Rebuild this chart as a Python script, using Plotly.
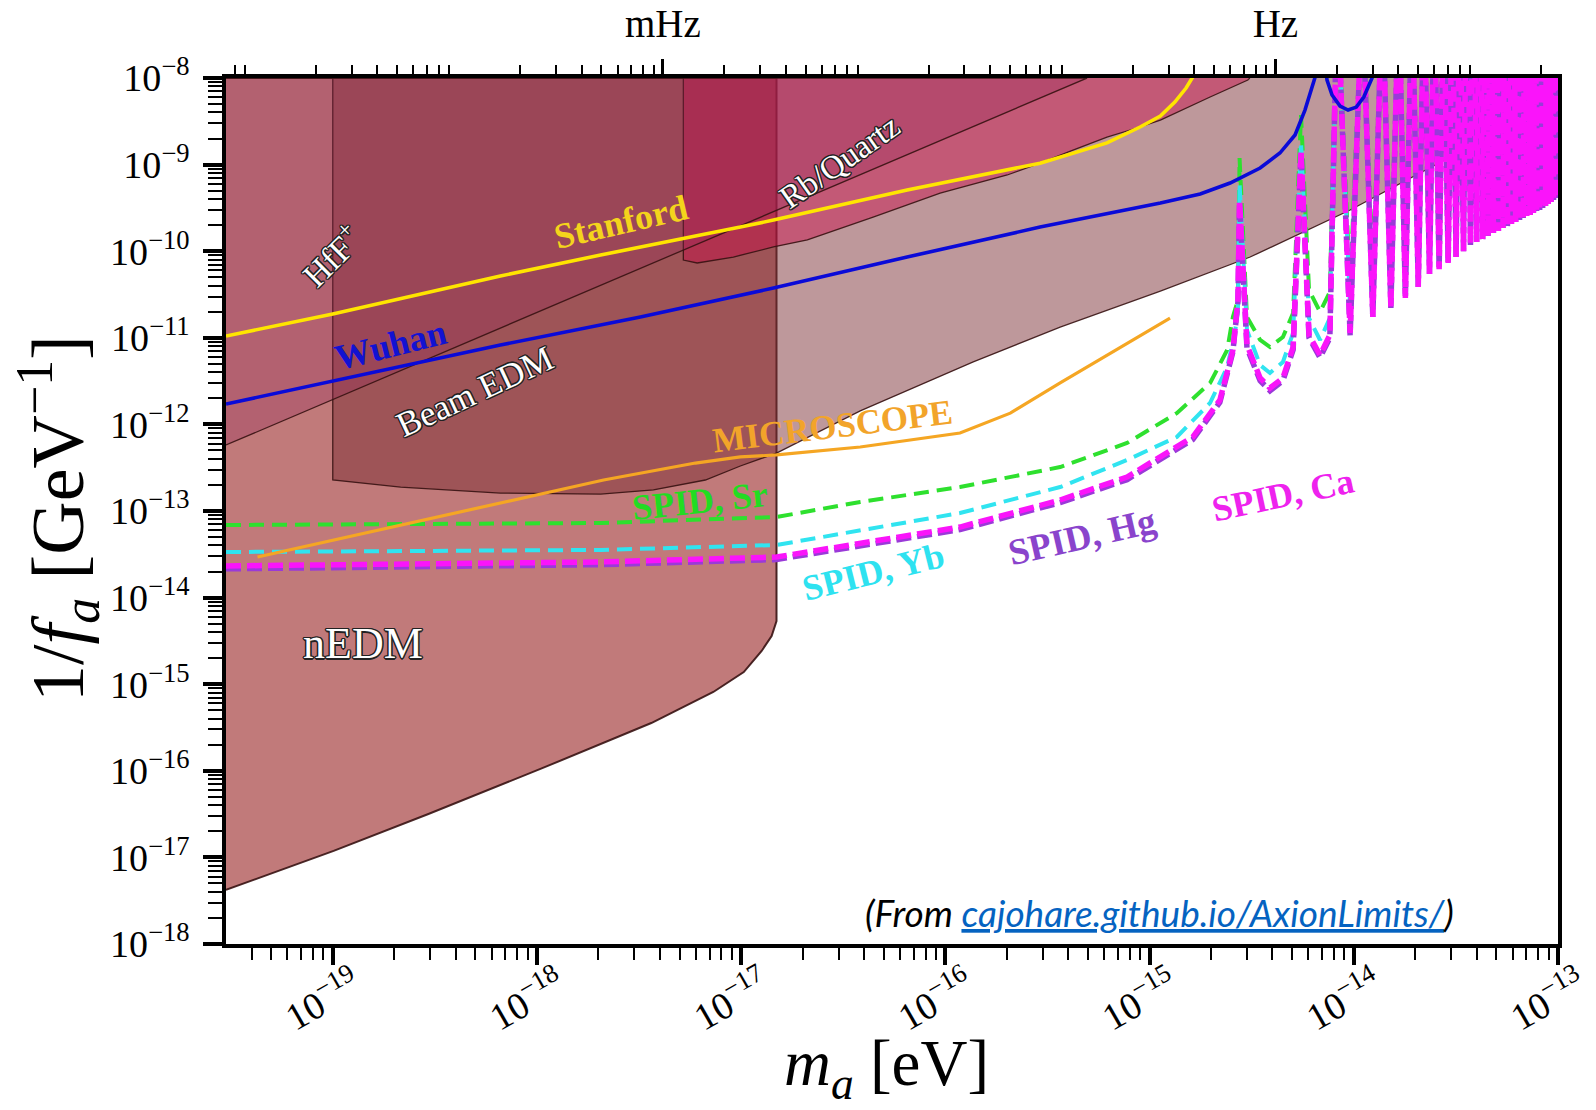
import numpy as np
import plotly.graph_objects as go

# ---------------- data (m_a in eV, 1/f_a in GeV^-1) ----------------
TOP = 1e-7       # resonance spikes leave the plot
TOP_DENSE = 1e-6  # spikes in the dense comb

nedm_m = [3.0e-20, 1.01e-19, 2.94e-19, 1.04e-18, 3.63e-18, 7.31e-18, 1.03e-17, 1.26e-17, 1.41e-17, 1.49e-17, 1.49e-17, 3.0e-20]
nedm_g = [4.21e-18, 1.19e-17, 3.17e-17, 1.05e-16, 3.56e-16, 8.13e-16, 1.38e-15, 2.42e-15, 3.60e-15, 5.37e-15, 1e-8, 1e-8]

hff_m = [1.0e-19, 1.0e-19, 2.15e-19, 6.62e-19, 2.05e-18, 3.72e-18, 6.68e-18, 9.91e-18, 1.49e-17, 3.83e-17,
         1.37e-16, 3.65e-16, 1.13e-15, 3.11e-15, 9.60e-15, 3.42e-14, 1e-13, 1e-13]
hff_g = [1e-8, 2.28e-13, 1.89e-13, 1.61e-13, 1.57e-13, 1.75e-13, 2.28e-13, 3.31e-13, 4.67e-13, 1.43e-12,
         5.26e-12, 1.33e-11, 3.47e-11, 8.57e-11, 2.99e-10, 1.47e-9, 5.57e-9, 1e-8]

rbq_m = [5.21e-18, 5.21e-18, 6.09e-18, 9.16e-18, 1.44e-17, 2.11e-17, 4.43e-17, 9.43e-17, 2.01e-16, 2.91e-16,
         4.22e-16, 6.19e-16, 8.99e-16, 1.13e-15, 1.98e-15, 3.03e-15, 3.1e-15]
rbq_g = [1e-8, 7.91e-11, 7.31e-11, 8.57e-11, 1.12e-10, 1.35e-10, 2.48e-10, 4.70e-10, 7.59e-10, 1.04e-9,
         1.47e-9, 2.08e-9, 2.72e-9, 3.27e-9, 6.04e-9, 9.48e-9, 1e-8]

beam_m = [3.0e-20, 4.94e-16, 3.0e-20]
beam_g = [5.78e-13, 1e-8, 1e-8]

stanford_m = [3.0e-20, 1.0e-19, 6.62e-19, 2.05e-18, 9.91e-18, 1.44e-17, 6.50e-17, 2.91e-16, 6.19e-16, 8.99e-16,
              1.13e-15, 1.33e-15, 1.51e-15, 1.62e-15, 1.73e-15]
stanford_g = [1.05e-11, 1.88e-11, 5.17e-11, 9.04e-11, 1.90e-10, 2.29e-10, 5.09e-10, 1.04e-9, 1.78e-9, 2.72e-9,
              3.64e-9, 5.28e-9, 7.67e-9, 1e-8, 1.3e-8]

wuhan_m = [3.0e-20, 6.62e-19, 3.21e-18, 9.91e-18, 1.44e-17, 6.50e-17, 2.91e-16, 1.13e-15, 1.77e-15, 2.48e-15,
           3.48e-15, 4.35e-15, 5.16e-15, 5.77e-15, 6.18e-15, 6.45e-15, 6.65e-15, 7.20e-15, 7.40e-15, 7.83e-15,
           8.57e-15, 9.38e-15, 1.03e-14, 1.12e-14, 1.23e-14, 1.27e-14]
wuhan_g = [1.72e-12, 8.26e-12, 1.74e-11, 3.12e-11, 3.76e-11, 8.57e-11, 1.90e-10, 3.61e-10, 4.58e-10, 6.13e-10,
           9.14e-10, 1.36e-9, 2.20e-9, 4.27e-9, 7.26e-9, 1e-8, 1.41e-8, 1.61e-8, 9.48e-9, 6.37e-9,
           4.75e-9, 4.27e-9, 4.62e-9, 6.04e-9, 1e-8, 1.41e-8]

microscope_m = [4.28e-20, 2.12e-18, 5.97e-18, 9.91e-18, 1.49e-17, 3.83e-17, 1.18e-16, 2.08e-16, 3.65e-16, 7.76e-16, 1.26e-15]
microscope_g = [2.94e-14, 2.28e-13, 3.58e-13, 4.21e-13, 4.44e-13, 5.48e-13, 7.96e-13, 1.35e-12, 3.01e-12, 8.71e-12, 1.69e-11]

# SPID projections: resonance masses, low-mass parts, first lobes, troughs
spid_peak_m = [2.76e-15, 5.52e-15, 8.30e-15, 1.10e-14, 1.38e-14, 1.66e-14, 1.93e-14, 2.21e-14, 2.48e-14,
               2.76e-14, 3.04e-14, 3.31e-14, 3.59e-14, 3.86e-14, 4.14e-14, 4.42e-14, 4.69e-14, 4.97e-14,
               5.24e-14, 5.52e-14, 5.80e-14, 6.07e-14, 6.35e-14, 6.62e-14, 6.90e-14, 7.18e-14, 7.45e-14,
               7.73e-14, 8.00e-14, 8.28e-14, 8.56e-14, 8.83e-14, 9.11e-14, 9.38e-14, 9.66e-14, 9.94e-14]
spid_lobe_m = [[3.0e-15, 3.48e-15, 3.89e-15, 4.50e-15, 5.05e-15], [6.04e-15, 6.84e-15, 7.64e-15], [9.60e-15]]
spid_trough_m = [1.24e-14, 1.52e-14, 1.79e-14, 2.07e-14, 2.35e-14, 2.62e-14, 2.90e-14, 3.17e-14, 3.45e-14,
                 3.73e-14, 4.00e-14, 4.28e-14, 4.55e-14, 4.83e-14, 5.11e-14, 5.38e-14, 5.66e-14, 5.93e-14,
                 6.21e-14, 6.49e-14, 6.76e-14, 7.04e-14, 7.31e-14, 7.59e-14, 7.87e-14, 8.14e-14, 8.42e-14,
                 8.69e-14, 8.97e-14, 9.25e-14, 9.52e-14, 9.80e-14]

sr_m = [3.0e-20, 2.05e-18, 1.49e-17, 3.83e-17, 1.18e-16, 3.65e-16, 7.76e-16, 1.36e-15, 1.98e-15, 2.40e-15, 2.56e-15, 2.71e-15]
sr_g = [6.89e-14, 7.27e-14, 8.53e-14, 1.27e-13, 1.89e-13, 3.22e-13, 6.10e-13, 1.35e-12, 3.01e-12, 7.23e-12, 1.74e-11, 2.73e-11]
sr_peak_g = [1.19e-9, 3.74e-9, TOP, TOP]
sr_lobe_g = [[1.74e-11, 9.44e-12, 7.83e-12, 1.02e-11, 1.93e-11], [3.56e-11, 1.99e-11, 3.38e-11], [3.86e-11]]
sr_trough_g = [5.75e-11, 7.08e-11, 9.12e-11, 1.20e-10, 1.66e-10, 1.86e-10, 2.14e-10, 2.45e-10, 2.82e-10,
               3.24e-10, 3.47e-10, 3.72e-10, 3.98e-10, 4.27e-10, 4.47e-10, 4.79e-10, 5.01e-10, 5.25e-10,
               5.50e-10, 5.75e-10, 6.03e-10, 6.31e-10, 6.46e-10, 6.76e-10, 7.08e-10, 7.24e-10, 7.59e-10,
               7.94e-10, 8.32e-10, 8.71e-10, 9.12e-10, 9.55e-10]

yb_m = [3.0e-20, 2.05e-18, 1.49e-17, 3.83e-17, 1.18e-16, 3.65e-16, 7.76e-16, 1.36e-15, 1.98e-15, 2.40e-15, 2.62e-15, 2.71e-15]
yb_g = [3.36e-14, 3.55e-14, 4.05e-14, 6.04e-14, 9.48e-14, 1.89e-13, 3.88e-13, 7.16e-13, 1.77e-12, 4.60e-12, 1.14e-11, 2.10e-11]
yb_peak_g = [6.13e-10, 1.82e-9, TOP, TOP]
yb_lobe_g = [[1.23e-11, 4.85e-12, 3.93e-12, 5.26e-12, 1.14e-11], [1.69e-11, 9.44e-12, 1.69e-11], [2.10e-11]]
yb_trough_g = [2.57e-11, 3.24e-11, 4.27e-11, 5.75e-11, 7.94e-11, 9.12e-11, 1.07e-10, 1.17e-10, 1.38e-10,
               1.62e-10, 1.78e-10, 1.91e-10, 2.09e-10, 2.24e-10, 2.34e-10, 2.57e-10, 2.69e-10, 2.82e-10,
               3.02e-10, 3.16e-10, 3.31e-10, 3.55e-10, 3.63e-10, 3.80e-10, 3.98e-10, 4.17e-10, 4.37e-10,
               4.57e-10, 4.79e-10, 5.13e-10, 5.37e-10, 5.62e-10]

ca_m = [3.0e-20, 2.05e-18, 1.49e-17, 3.83e-17, 1.18e-16, 3.65e-16, 7.76e-16, 1.63e-15, 2.21e-15, 2.56e-15, 2.71e-15]
ca_g = [2.32e-14, 2.58e-14, 2.94e-14, 4.27e-14, 6.53e-14, 1.34e-13, 2.47e-13, 7.16e-13, 1.91e-12, 7.23e-12, 2.73e-11]
ca_peak_g = [3.90e-10, 1.47e-9, TOP, TOP]
ca_lobe_g = [[8.26e-12, 3.44e-12, 2.63e-12, 3.44e-12, 7.83e-12], [1.08e-11, 6.33e-12, 1.08e-11], [1.14e-11]]
ca_trough_g = [1.74e-11, 2.21e-11, 2.88e-11, 3.86e-11, 5.46e-11, 6.22e-11, 7.31e-11, 8.57e-11, 1.00e-10,
               1.18e-10, 1.28e-10, 1.38e-10, 1.50e-10, 1.62e-10, 1.71e-10, 1.85e-10, 1.95e-10, 2.06e-10,
               2.17e-10, 2.29e-10, 2.42e-10, 2.55e-10, 2.62e-10, 2.76e-10, 2.91e-10, 2.99e-10, 3.15e-10,
               3.33e-10, 3.51e-10, 3.70e-10, 3.90e-10, 4.11e-10]

hg_m = [3.0e-20, 2.05e-18, 1.49e-17, 3.83e-17, 1.18e-16, 3.65e-16, 7.76e-16, 1.63e-15, 2.21e-15, 2.56e-15, 2.71e-15]
hg_g = [2.15e-14, 2.40e-14, 2.75e-14, 4.00e-14, 6.10e-14, 1.25e-13, 2.30e-13, 6.70e-13, 1.80e-12, 6.90e-12, 2.60e-11]
hg_peak_g = [3.60e-10, 1.40e-9, TOP, TOP]
hg_lobe_g = [[7.60e-12, 3.20e-12, 2.45e-12, 3.20e-12, 7.30e-12], [1.00e-11, 5.90e-12, 1.00e-11], [1.06e-11]]
hg_trough_g = ca_trough_g  # hidden beneath Ca in the dense region

# axis ticks
x_tickvals = [1e-19, 1e-18, 1e-17, 1e-16, 1e-15, 1e-14, 1e-13]
x_ticktext = ["10<sup>−19</sup>", "10<sup>−18</sup>", "10<sup>−17</sup>", "10<sup>−16</sup>",
              "10<sup>−15</sup>", "10<sup>−14</sup>", "10<sup>−13</sup>"]
y_tickvals = [1e-18, 1e-17, 1e-16, 1e-15, 1e-14, 1e-13, 1e-12, 1e-11, 1e-10, 1e-9, 1e-8]
y_ticktext = ["10<sup>−18</sup>", "10<sup>−17</sup>", "10<sup>−16</sup>", "10<sup>−15</sup>",
              "10<sup>−14</sup>", "10<sup>−13</sup>", "10<sup>−12</sup>", "10<sup>−11</sup>",
              "10<sup>−10</sup>", "10<sup>−9</sup>", "10<sup>−8</sup>"]
freq_tickvals_hz = [1e-3, 1.0]
freq_ticktext = ["mHz", "Hz"]
H_EVS = 4.135667e-15  # Planck constant, eV s

X_MIN, X_MAX = 3.0e-20, 1e-13
Y_MIN, Y_MAX = 1e-18, 1e-8
XR = [np.log10(X_MIN), np.log10(X_MAX) + 0.0004]
YR = [np.log10(Y_MIN) - 0.0004, np.log10(Y_MAX) + 0.0004]

# ---------------- figure ----------------
fig = go.Figure()
EDGE = "rgba(55,18,18,0.9)"


def region(m, g, color, lw=1.3):
    fig.add_trace(go.Scatter(x=m, y=g, mode="lines", fill="toself", fillcolor=color,
                             line=dict(color=EDGE, width=lw), hoverinfo="skip"))


region(nedm_m, nedm_g, "rgb(193,122,122)", 2.0)
region(hff_m, hff_g, "rgba(122,44,52,0.49)")
region(rbq_m, rbq_g, "rgba(202,7,70,0.43)")
region(beam_m, beam_g, "rgba(150,40,90,0.30)")


def spid_path(low_m, low_g, peak_g, lobe_g, trough_g):
    xs = list(low_m) + [spid_peak_m[0]]
    ys = list(low_g) + [peak_g[0]]
    for i in range(3):
        xs += spid_lobe_m[i]
        ys += lobe_g[i]
        xs.append(spid_peak_m[i + 1])
        ys.append(peak_g[i + 1])
    for j, (tm, tg) in enumerate(zip(spid_trough_m, trough_g)):
        k = 4 + j
        xs += [tm, spid_peak_m[k]]
        ys += [tg, TOP if k < 12 else TOP_DENSE]
    return xs, ys


for low_m, low_g, pk, lb, tr, col, w, dash in [
    (sr_m, sr_g, sr_peak_g, sr_lobe_g, sr_trough_g, "#2EE02E", 4, "15px,8px"),
    (yb_m, yb_g, yb_peak_g, yb_lobe_g, yb_trough_g, "#30E4F0", 4, "15px,8px"),
    (hg_m, hg_g, hg_peak_g, hg_lobe_g, hg_trough_g, "#9A3AD8", 5.5, "15px,6px"),
    (ca_m, ca_g, ca_peak_g, ca_lobe_g, ca_trough_g, "#FA14FA", 5.5, "15px,6px"),
]:
    xs, ys = spid_path(low_m, low_g, pk, lb, tr)
    fig.add_trace(go.Scatter(x=xs, y=ys, mode="lines", line=dict(color=col, width=w, dash=dash),
                             hoverinfo="skip"))

fig.add_trace(go.Scatter(x=microscope_m, y=microscope_g, mode="lines",
                         line=dict(color="#F5A623", width=3.2), hoverinfo="skip"))
fig.add_trace(go.Scatter(x=stanford_m, y=stanford_g, mode="lines",
                         line=dict(color="#FFE500", width=3.6), hoverinfo="skip"))
fig.add_trace(go.Scatter(x=wuhan_m, y=wuhan_g, mode="lines",
                         line=dict(color="#0A0AD8", width=3.6), hoverinfo="skip"))

# dummy trace for the top (frequency) axis
fig.add_trace(go.Scatter(x=[X_MIN, X_MAX], y=[Y_MIN, Y_MIN], xaxis="x2", mode="lines",
                         line=dict(width=0), hoverinfo="skip", showlegend=False))

# ---------------- labels ----------------
OUT = ("1px 1px 0 #222, -1px -1px 0 #222, 1px -1px 0 #222, -1px 1px 0 #222, "
       "0 1.5px 0 #222, 0 -1.5px 0 #222, 1.5px 0 0 #222, -1.5px 0 0 #222")
labels = [
    ("HfF<sup>+</sup>", 9.8e-20, 9.0e-11, -45, "white", 34, "normal", OUT),
    ("Stanford", 2.59e-18, 2.17e-10, -13, "#F4D41C", 36, "bold", "none"),
    ("Rb/Quartz", 3.02e-17, 1.07e-9, -35, "white", 33, "normal", OUT),
    ("Wuhan", 1.92e-19, 8.26e-12, -14, "#1212D2", 36, "bold", "none"),
    ("Beam EDM", 5.0e-19, 2.37e-12, -25, "white", 35, "normal", OUT),
    ("MICROSCOPE", 2.79e-17, 9.5e-13, -7, "#F2A42A", 35, "bold", "none"),
    ("SPID, Sr", 6.31e-18, 1.30e-13, -6, "#22DC22", 36, "bold", "none"),
    ("SPID, Yb", 4.43e-17, 1.98e-14, -14, "#2EE2F0", 36, "bold", "none"),
    ("SPID, Hg", 4.68e-16, 5.01e-14, -13, "#8A44CC", 37, "bold", "none"),
    ("SPID, Ca", 4.51e-15, 1.53e-13, -12, "#EE22EE", 36, "bold", "none"),
    ("nEDM", 1.40e-19, 2.99e-15, 0, "white", 44, "normal", OUT),
]
for text, lx, ly, ang, col, size, weight, shadow in labels:
    fig.add_annotation(x=np.log10(lx), y=np.log10(ly), xref="x", yref="y", text=text, showarrow=False,
                       textangle=ang, xanchor="center", yanchor="middle",
                       font=dict(family="Liberation Serif", size=size, color=col, weight=weight,
                                 shadow=shadow))

fig.add_annotation(
    x=0.701, y=0.036, xref="paper", yref="paper", showarrow=False, xanchor="center", yanchor="middle",
    text="<i>(From <a href='https://cajohare.github.io/AxionLimits/'><span style='color:#0563C1'>"
         "<u>cajohare.github.io/AxionLimits/</u></span></a>)</i>",
    font=dict(family="Lato", size=37, color="black"))

# axis titles
fig.add_annotation(x=-0.126, y=0.491, xref="paper", yref="paper", showarrow=False, textangle=-90,
                   xanchor="center", yanchor="middle",
                   text="1/<i>f</i><sub><i>a</i></sub> [GeV<sup>−1</sup>]",
                   font=dict(family="Liberation Serif", size=74, color="black"))
fig.add_annotation(x=0.4955, y=-0.143, xref="paper", yref="paper", showarrow=False,
                   xanchor="center", yanchor="middle",
                   text="<i>m</i><sub><i>a</i></sub> [eV]",
                   font=dict(family="Liberation Serif", size=65, color="black"))

# ---------------- axes ----------------
x_minor = [k * 10.0 ** e for e in range(-20, -13) for k in range(2, 10) if X_MIN <= k * 10.0 ** e <= X_MAX]
y_minor = [k * 10.0 ** e for e in range(-18, -8) for k in range(2, 10)]
f_minor = [k * 10.0 ** e * H_EVS for e in range(-6, 2) for k in range(2, 10)
           if X_MIN <= k * 10.0 ** e * H_EVS <= X_MAX]

tickfont = dict(family="Liberation Serif", size=38, color="black")
fig.update_layout(
    width=1596, height=1110,
    margin=dict(l=226, r=38, t=78, b=166, autoexpand=False),
    paper_bgcolor="white", plot_bgcolor="white",
    showlegend=False,
    xaxis=dict(type="log", range=XR, tickmode="array", automargin=False,
               tickvals=x_tickvals, ticktext=x_ticktext, tickangle=-30, tickfont=tickfont,
               ticks="outside", ticklen=17, tickwidth=3.5, tickcolor="black",
               minor=dict(ticks="outside", ticklen=12, tickwidth=1.5, tickcolor="black",
                          tickmode="array", tickvals=x_minor, showgrid=False),
               showgrid=False, zeroline=False, showline=True, linecolor="black", linewidth=3.5,
               mirror=True, ticklabelshift=22, ticklabelstandoff=-16, ticklabeloverflow="allow"),
    xaxis2=dict(type="log", overlaying="x", side="top", anchor="y", automargin=False,
                range=XR, tickmode="array",
                tickvals=[f * H_EVS for f in freq_tickvals_hz], ticktext=freq_ticktext,
                tickfont=dict(family="Liberation Serif", size=39, color="black"),
                ticks="outside", ticklen=18, tickwidth=3, tickcolor="black",
                minor=dict(ticks="outside", ticklen=12, tickwidth=1.5, tickcolor="black",
                           tickmode="array", tickvals=f_minor, showgrid=False),
                showgrid=False, zeroline=False, showline=False, ticklabelstandoff=6,
                ticklabeloverflow="allow"),
    yaxis=dict(type="log", range=YR, tickmode="array", automargin=False,
               tickvals=y_tickvals, ticktext=y_ticktext, tickfont=tickfont,
               ticks="outside", ticklen=19, tickwidth=3.5, tickcolor="black",
               minor=dict(ticks="outside", ticklen=14, tickwidth=1.5, tickcolor="black",
                          tickmode="array", tickvals=y_minor, showgrid=False),
               showgrid=False, zeroline=False, showline=True, linecolor="black", linewidth=3.5,
               mirror=True, ticklabelstandoff=6),
)

fig.write_html("out.html", config={"displayModeBar": False},
               post_script="document.body.style.margin='0px';")
